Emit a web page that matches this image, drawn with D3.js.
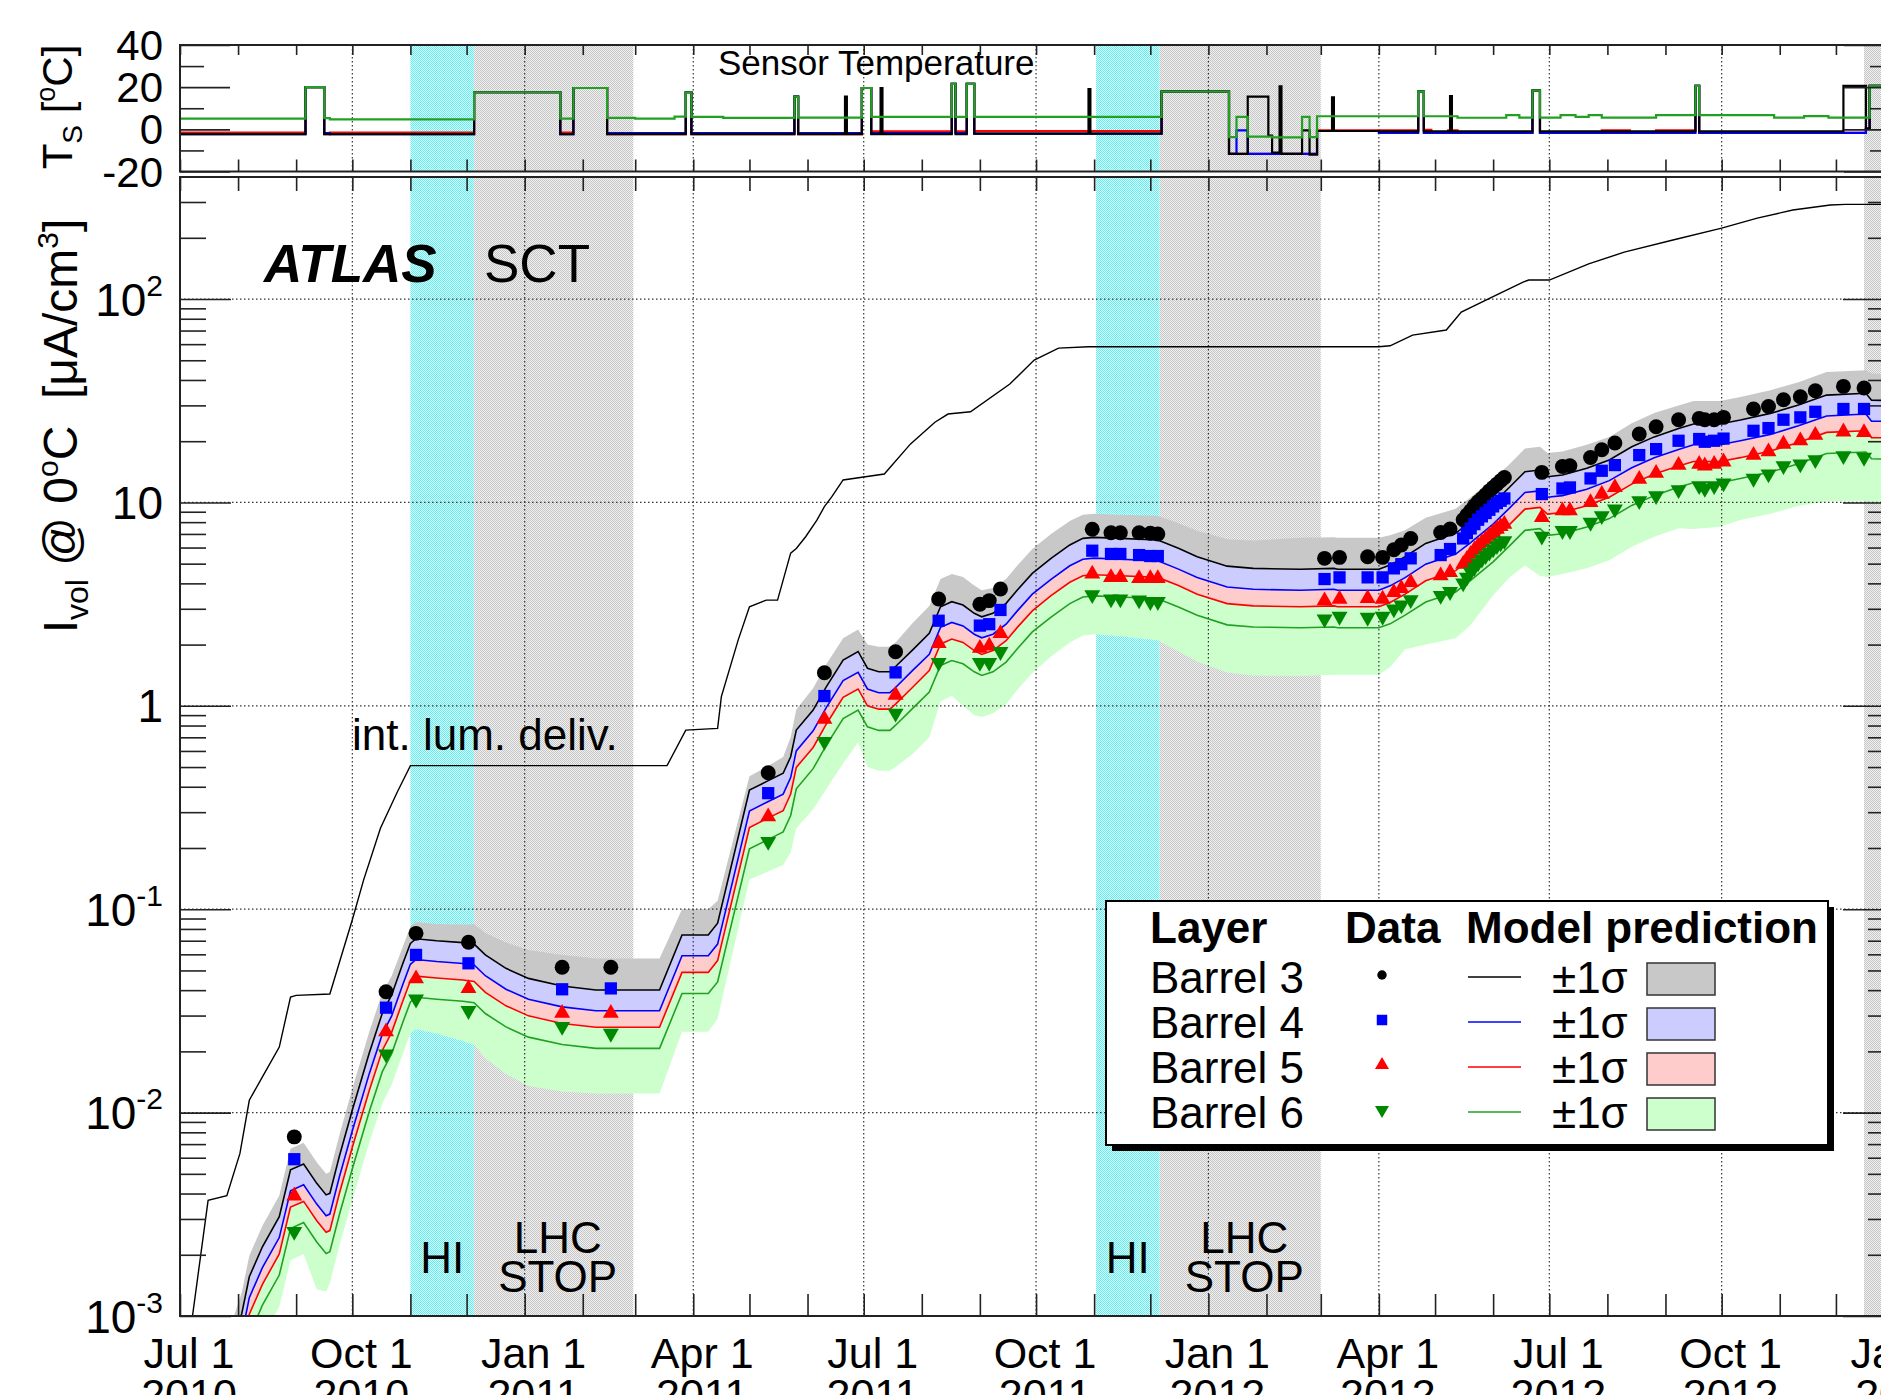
<!DOCTYPE html>
<html>
<head>
<meta charset="utf-8">
<script src="https://cdn.jsdelivr.net/npm/d3@7"></script>
<style>
  html, body { margin: 0; padding: 0; background: #fff; overflow: hidden; }
  svg { display: block; font-family: "Liberation Sans", Arial, Helvetica, sans-serif; }
  text { white-space: pre; }
</style>
</head>
<body>
<svg id="chart" width="1881" height="1395"></svg>
<script>
// ---------------- data ----------------
// shaded running periods (heavy-ion runs and LHC shutdowns)
const periodStart = ["2010-11-01", "2010-12-05", "2011-11-02", "2011-12-06", "2012-12-16"];
const periodEnd   = ["2010-12-05", "2011-02-28", "2011-12-06", "2012-03-01", "2013-01-01"];
const periodKind  = ["HI", "STOP", "HI", "STOP", "STOP"];

// x-axis labels
const labelDates = ["2010-07-01","2010-10-01","2011-01-01","2011-04-01","2011-07-01","2011-10-01",
                    "2012-01-01","2012-04-01","2012-07-01","2012-10-01","2013-01-01"];
const dateLabels = ["Jul 1","Oct 1","Jan 1","Apr 1","Jul 1","Oct 1","Jan 1","Apr 1","Jul 1","Oct 1","Jan 1"];
const yearLabels = ["2010","2010","2011","2011","2011","2011","2012","2012","2012","2012","2013"];

// y-axis labels (main panel, log scale)
const yTickVals = [1e-3, 1e-2, 1e-1, 1, 10, 100];
const yTickBase = ["10", "10", "10", "1", "10", "10"];
const yTickExp  = ["-3", "-2", "-1", "", "", "2"];

// y-axis labels (temperature panel)
const tTickVals = [40, 20, 0, -20];
const tTickText = ["40", "20", "0", "-20"];

// measured leakage current, uA/cm3 at 0 C
const dataDates = [
  "2010-08-31","2010-10-19","2010-11-04","2010-12-02","2011-01-21","2011-02-16",
  "2011-05-11","2011-06-10","2011-07-18","2011-08-10","2011-09-01","2011-09-06","2011-09-12",
  "2011-10-31","2011-11-10","2011-11-15","2011-11-25","2011-12-01","2011-12-05",
  "2012-03-03","2012-03-11","2012-03-26","2012-04-03","2012-04-09","2012-04-13","2012-04-18",
  "2012-05-04","2012-05-09","2012-05-16","2012-05-18","2012-05-20","2012-05-22","2012-05-24",
  "2012-05-26","2012-05-28","2012-05-30","2012-06-01","2012-06-03","2012-06-05","2012-06-07",
  "2012-06-27","2012-07-08","2012-07-12","2012-07-23","2012-07-29","2012-08-05","2012-08-18",
  "2012-08-27","2012-09-08","2012-09-19","2012-09-22","2012-09-27","2012-10-02","2012-10-18",
  "2012-10-26","2012-11-03","2012-11-12","2012-11-20","2012-12-05","2012-12-16"];
const b3Data = [0.0076, 0.0393, 0.0761, 0.0688, 0.0518, 0.0518,
  0.469, 1.455, 1.845, 3.35, 3.16, 3.29, 3.75, 7.38, 7.10, 7.10, 7.10, 7.05, 7.0,
  5.31, 5.37, 5.41, 5.37, 5.85, 6.17, 6.65, 7.12, 7.40,
  8.22, 8.66, 9.10, 9.63, 10.08, 10.46, 10.9, 11.4, 11.85, 12.3, 12.78, 13.27,
  14.05, 15.03, 15.14, 16.64, 18.15, 19.58, 21.7, 23.55,
  25.5, 25.9, 25.5, 25.5, 26.2, 28.8, 29.6, 32.0, 33.1, 35.4, 37.2, 36.5];
const b4Data = [0.0059, 0.0328, 0.0596, 0.0542, 0.0404, 0.0408,
  0.372, 1.117, 1.46, 2.62, 2.48, 2.52, 2.96, 5.79, 5.58, 5.58, 5.51, 5.45, 5.45,
  4.20, 4.28, 4.28, 4.28, 4.74, 4.97, 5.31, 5.51, 5.90,
  6.65, 7.07, 7.45, 7.82, 8.22, 8.54, 8.87, 9.20, 9.56, 9.92, 10.19, 10.46,
  10.99, 11.71, 11.85, 13.12, 14.31, 15.26, 17.09, 18.29,
  20.1, 20.5, 19.87, 20.1, 20.6, 22.5, 23.2, 25.5, 26.2, 27.9, 28.8, 28.8];
const b5Data = [0.0039, 0.025, 0.0455, 0.0408, 0.0308, 0.0308,
  0.285, 0.859, 1.13, 2.03, 1.92, 1.97, 2.27, 4.45, 4.28, 4.28, 4.23, 4.23, 4.23,
  3.29, 3.35, 3.37, 3.35, 3.61, 3.78, 4.04, 4.36, 4.53,
  4.97, 5.26, 5.57, 5.85, 6.12, 6.36, 6.60, 6.86, 7.12, 7.40, 7.62, 7.82,
  8.44, 9.10, 9.10, 10.0, 10.99, 11.85, 13.02, 13.94,
  15.26, 15.43, 15.14, 15.43, 15.84, 17.09, 17.75, 19.36, 20.1, 21.43, 22.25, 22.08];
const b6Data = [0.0026, 0.0194, 0.0361, 0.0317, 0.0265, 0.0245,
  0.215, 0.667, 0.918, 1.63, 1.63, 1.63, 1.845, 3.51, 3.35, 3.35, 3.31, 3.25, 3.25,
  2.67, 2.75, 2.72, 2.75, 2.99, 3.13, 3.32, 3.48, 3.64,
  4.01, 4.28, 4.56, 4.79, 5.03, 5.26, 5.47, 5.68, 5.90, 6.12, 6.31, 6.48,
  6.81, 7.26, 7.26, 7.97, 8.60, 9.27, 10.19, 10.78,
  11.54, 12.07, 11.71, 12.07, 12.45, 13.12, 13.78, 15.14, 15.43, 16.21, 16.96, 16.64];

// model prediction per barrel, with the outer edges of the uncertainty bands
const modelDates = [
  "2010-07-28","2010-08-03","2010-08-07","2010-08-14","2010-08-23","2010-08-29","2010-09-05","2010-09-12","2010-09-17","2010-09-19",
  "2010-09-24","2010-10-01","2010-10-10","2010-10-17","2010-10-22","2010-10-28","2010-11-01","2010-11-04","2010-11-15","2010-11-29",
  "2010-12-05","2010-12-11","2010-12-22","2011-01-03","2011-01-21","2011-02-08","2011-03-14","2011-03-26","2011-04-09","2011-04-14",
  "2011-05-01","2011-05-10","2011-05-19","2011-05-23","2011-05-26","2011-06-04","2011-06-11","2011-06-20","2011-06-28","2011-07-03",
  "2011-07-09","2011-07-15","2011-07-18","2011-07-27","2011-08-05","2011-08-11","2011-08-17","2011-08-23","2011-08-29","2011-09-02",
  "2011-09-08","2011-09-15","2011-09-21","2011-09-29","2011-10-09","2011-10-19","2011-10-26","2011-11-01","2011-11-15","2011-12-05",
  "2011-12-16","2011-12-26","2012-01-11","2012-01-25","2012-02-19","2012-03-08","2012-03-10","2012-04-01","2012-04-07","2012-04-15",
  "2012-04-26","2012-05-12","2012-05-20","2012-06-01","2012-06-10","2012-06-18","2012-06-26","2012-06-30","2012-07-08","2012-07-21",
  "2012-08-02","2012-08-14","2012-08-26","2012-09-08","2012-09-16","2012-09-30","2012-10-11","2012-10-27","2012-11-11","2012-11-26",
  "2012-12-17","2012-12-20","2013-01-01"];
const m3 = [
  0.0007, 0.00103, 0.00156, 0.00219, 0.00308, 0.00523, 0.00559, 0.00449, 0.00394, 0.00401,
  0.00607, 0.0103, 0.0196, 0.0308, 0.0379, 0.0542, 0.0679, 0.0716, 0.0700, 0.0685,
  0.0674, 0.0596, 0.0512, 0.0457, 0.0419, 0.0401, 0.0401, 0.0747, 0.0747, 0.0853,
  0.385, 0.424, 0.466, 0.562, 0.760, 0.953, 1.24, 1.68, 1.85, 1.53,
  1.47, 1.47, 1.56, 1.88, 2.27, 3.07, 3.25, 3.13, 2.85, 2.74,
  2.85, 3.19, 3.71, 4.48, 5.31, 6.18, 6.66, 6.73, 6.66, 6.53,
  5.95, 5.41, 4.86, 4.74, 4.69, 4.74, 4.69, 4.69, 4.92, 5.41,
  6.29, 7.05, 8.04, 9.90, 11.94, 14.16, 14.43, 13.37, 13.64, 14.72,
  16.17, 18.78, 21.0, 23.1, 24.3, 24.3, 25.4, 27.4, 30.1, 33.7,
  34.4, 31.8, 31.7];
const m4 = [
  0.00055, 0.00081, 0.00123, 0.00173, 0.00243, 0.00413, 0.00442, 0.00355, 0.00311, 0.00317,
  0.0048, 0.00814, 0.0155, 0.0243, 0.0299, 0.0428, 0.0536, 0.0566, 0.0553, 0.0541,
  0.0532, 0.0471, 0.0404, 0.0361, 0.0331, 0.0317, 0.0317, 0.059, 0.059, 0.0674,
  0.304, 0.335, 0.368, 0.444, 0.60, 0.753, 0.98, 1.33, 1.46, 1.21,
  1.16, 1.16, 1.23, 1.49, 1.79, 2.43, 2.57, 2.47, 2.25, 2.16,
  2.25, 2.52, 2.93, 3.54, 4.19, 4.88, 5.26, 5.32, 5.26, 5.16,
  4.70, 4.27, 3.84, 3.74, 3.70, 3.74, 3.70, 3.70, 3.89, 4.27,
  4.97, 5.57, 6.35, 7.82, 9.43, 11.2, 11.4, 10.6, 10.8, 11.6,
  12.8, 14.8, 16.6, 18.2, 19.2, 19.2, 20.1, 21.6, 23.8, 26.6,
  27.2, 25.1, 25.0];
const m5 = [
  0.00046, 0.00067, 0.00102, 0.00143, 0.00202, 0.00343, 0.00366, 0.00294, 0.00258, 0.00263,
  0.00398, 0.00675, 0.0128, 0.0202, 0.0248, 0.0355, 0.0445, 0.0469, 0.0459, 0.0449,
  0.0441, 0.039, 0.0335, 0.0299, 0.0274, 0.0263, 0.0263, 0.0489, 0.0489, 0.0559,
  0.252, 0.278, 0.305, 0.368, 0.498, 0.624, 0.812, 1.10, 1.21, 1.0,
  0.963, 0.963, 1.02, 1.23, 1.49, 2.01, 2.13, 2.05, 1.87, 1.79,
  1.87, 2.09, 2.43, 2.93, 3.48, 4.05, 4.36, 4.41, 4.36, 4.28,
  3.90, 3.54, 3.18, 3.10, 3.07, 3.10, 3.07, 3.07, 3.22, 3.54,
  4.12, 4.62, 5.27, 6.48, 7.82, 9.27, 9.45, 8.76, 8.93, 9.64,
  10.6, 12.3, 13.8, 15.1, 15.9, 15.9, 16.6, 17.9, 19.7, 22.1,
  22.5, 20.8, 20.8];
const m6 = [
  0.00036, 0.00053, 0.0008, 0.00113, 0.00159, 0.00269, 0.00288, 0.00231, 0.00203, 0.00207,
  0.00313, 0.0053, 0.0101, 0.0159, 0.0195, 0.0279, 0.035, 0.0369, 0.0361, 0.0353,
  0.0347, 0.0307, 0.0264, 0.0235, 0.0216, 0.0207, 0.0207, 0.0385, 0.0385, 0.0439,
  0.198, 0.218, 0.24, 0.289, 0.391, 0.491, 0.639, 0.865, 0.953, 0.788,
  0.757, 0.757, 0.803, 0.968, 1.17, 1.58, 1.67, 1.61, 1.47, 1.41,
  1.47, 1.64, 1.91, 2.31, 2.73, 3.18, 3.43, 3.47, 3.43, 3.36,
  3.06, 2.79, 2.50, 2.44, 2.42, 2.44, 2.42, 2.42, 2.53, 2.79,
  3.24, 3.63, 4.14, 5.10, 6.15, 7.29, 7.43, 6.89, 7.02, 7.58,
  8.33, 9.67, 10.8, 11.9, 12.5, 12.5, 13.1, 14.1, 15.5, 17.4,
  17.7, 16.4, 16.3];
const hi3 = [
  0.00089, 0.00131, 0.00198, 0.00278, 0.00391, 0.00664, 0.0071, 0.0057, 0.005, 0.0051,
  0.0077, 0.0131, 0.0249, 0.0388, 0.047, 0.0656, 0.0822, 0.0866, 0.0847, 0.0842,
  0.0843, 0.0763, 0.0686, 0.0631, 0.0595, 0.0573, 0.0573, 0.1, 0.1, 0.11,
  0.45, 0.50, 0.56, 0.70, 0.96, 1.22, 1.6, 2.15, 2.37, 2.0,
  1.95, 1.95, 2.05, 2.55, 3.1, 4.2, 4.45, 4.3, 3.9, 3.7,
  3.8, 4.2, 4.9, 5.9, 7.0, 8.1, 8.7, 8.8, 8.7, 8.6,
  7.9, 7.25, 6.6, 6.5, 6.7, 6.75, 6.7, 6.7, 6.9, 7.3,
  8.4, 9.3, 10.6, 13, 15.5, 18.4, 18.8, 17.5, 17.8, 19.2,
  21, 24.5, 27.5, 30, 31.5, 31.5, 33, 35.6, 39, 43.8,
  44.7, 43, 42.5];
const lo6 = [
  0.00025, 0.00037, 0.00056, 0.00079, 0.00111, 0.00188, 0.00202, 0.00135, 0.00132, 0.00145,
  0.0022, 0.0037, 0.0071, 0.0111, 0.0137, 0.0195, 0.0245, 0.0258, 0.0245, 0.0225,
  0.0215, 0.0185, 0.0155, 0.0135, 0.0127, 0.0124, 0.0124, 0.025, 0.025, 0.029,
  0.14, 0.152, 0.165, 0.19, 0.25, 0.31, 0.39, 0.52, 0.66, 0.50,
  0.48, 0.48, 0.50, 0.58, 0.70, 1.05, 1.12, 1.0, 0.90, 0.88,
  0.92, 1.02, 1.2, 1.45, 1.75, 2.05, 2.22, 2.25, 2.2, 2.1,
  1.85, 1.65, 1.46, 1.41, 1.40, 1.42, 1.42, 1.42, 1.55, 1.9,
  2.0, 2.15, 2.5, 3.5, 4.3, 4.9, 4.35, 4.3, 4.45, 4.75,
  5.2, 6.05, 6.78, 7.46, 7.4, 7.6, 8.19, 8.8, 9.6, 10.1,
  10.2, 10.0, 10.0];

// delivered integrated luminosity (same log axis)
const lumiDates = [
  "2010-07-07","2010-07-16","2010-07-26","2010-08-02","2010-08-07","2010-08-14","2010-08-23","2010-08-29",
  "2010-09-01","2010-09-19","2010-09-24","2010-10-01","2010-10-07","2010-10-16","2010-10-25","2010-11-01",
  "2011-03-18","2011-03-28","2011-04-14","2011-04-16","2011-04-25","2011-05-01","2011-05-10","2011-05-16",
  "2011-05-23","2011-05-26","2011-05-31","2011-06-06","2011-06-10","2011-06-14","2011-06-20","2011-07-12",
  "2011-07-26","2011-08-08","2011-08-15","2011-08-27","2011-09-17","2011-09-30","2011-10-13","2011-10-29",
  "2012-04-01","2012-04-07","2012-04-19","2012-05-07","2012-05-15","2012-06-04","2012-06-17","2012-06-20",
  "2012-07-01","2012-07-22","2012-08-10","2012-09-05","2012-10-01","2012-10-20","2012-11-08","2012-11-28",
  "2012-12-06","2013-01-01"];
const lumiVals = [
  0.0009, 0.0037, 0.0039, 0.0063, 0.0115, 0.015, 0.021, 0.037,
  0.0377, 0.0383, 0.0544, 0.0887, 0.139, 0.25, 0.377, 0.508,
  0.508, 0.76, 0.775, 1.11, 2.11, 3.07, 3.31, 3.31,
  5.63, 5.94, 6.78, 8.18, 9.53, 10.67, 12.9, 13.8,
  19.4, 24.8, 27.2, 27.9, 38.2, 50.1, 57.4, 58.3,
  58.3, 58.9, 66.5, 70.4, 86.3, 106, 121, 124,
  124, 149, 170, 195, 223, 250, 274, 290,
  292, 292];

// sensor temperature per barrel, C (held until the next date)
const tempDates = [
  "2010-07-01","2010-09-06","2010-09-16","2010-09-19","2010-12-05","2011-01-20","2011-01-27","2011-02-14",
  "2011-03-01","2011-03-22","2011-03-28","2011-03-31","2011-04-17","2011-05-25","2011-05-27","2011-06-21",
  "2011-06-22","2011-06-30","2011-07-05","2011-07-10","2011-07-11","2011-08-17","2011-08-19","2011-08-25",
  "2011-08-29","2011-10-29","2011-10-30","2011-12-07","2012-01-12","2012-01-16","2012-01-22","2012-02-02",
  "2012-02-04","2012-02-08","2012-02-09","2012-02-20","2012-02-24","2012-02-28","2012-03-07","2012-03-08",
  "2012-04-01","2012-04-22","2012-04-25","2012-04-29","2012-05-08","2012-05-09","2012-05-10","2012-05-13",
  "2012-06-08","2012-06-15","2012-06-22","2012-06-26","2012-07-07","2012-07-15","2012-07-22","2012-07-29",
  "2012-08-13","2012-08-27","2012-09-17","2012-09-19","2012-10-29","2012-11-14","2012-11-27","2012-12-05",
  "2012-12-17","2012-12-19","2013-01-01"];
const t3 = [
  -2.3, 20, -2.3, -2.3, 17.6, -2.3, 19.6, -2.3,
  -2.3, -2.3, 17.6, -2.3, -2.3, 15.5, -2.3, 15.5,
  -2.3, 19.6, -2.3, 19.6, -2.3, 21.6, -2.3, 21.6,
  -2.0, 19.1, -2.0, 17.9, -11.6, -11.6, 15.5, -3.0,
  -11.0, 20.4, -11.6, -0.5, -12.0, -0.8, 15.2, -0.8,
  -1.0, 17.9, -1.0, -1.0, -1.0, 15.8, -1.0, -1.0,
  -1.0, -1.0, 18.4, -1.0, -1.0, -1.0, -1.0, -1.0,
  -1.0, -1.0, 20.6, -1.0, -1.0, -1.0, -1.0, 20.6,
  0.3, 20.6, 20.6];
const t4 = [
  -2.3, 20, -1.8, -2.3, 17.6, -2.3, 19.6, -1.8,
  -1.8, -1.8, 17.6, -1.8, -1.8, 15.5, -1.8, -1.8,
  -1.8, 19.6, -1.8, -1.8, -1.8, 21.6, -1.8, 21.6,
  -2.0, -2.0, -2.0, 17.9, -11.6, -0.5, -11.6, -11.6,
  -11.6, -11.6, -11.6, -11.6, -11.6, -0.8, -0.8, -0.8,
  -1.7, 17.9, -1.7, -1.7, -1.7, -1.7, -1.7, -1.7,
  -1.7, -1.7, 18.4, -1.7, -1.7, -1.7, -1.7, -1.7,
  -1.7, -1.7, 20.6, -1.7, -1.7, -1.7, -1.7, -1.7,
  0.3, 20.6, 20.6];
const t5 = [
  -1.6, 20, -2.3, -1.6, 17.6, -1.6, 19.6, -2.3,
  -2.3, -2.3, 17.6, -2.3, -2.3, 15.5, -2.3, -2.3,
  -2.3, 19.6, -0.9, -0.9, -0.9, 21.6, -0.9, 21.6,
  -0.8, -0.8, -0.8, 17.9, -11.6, -11.6, -11.6, -11.6,
  -11.6, -11.6, -11.6, -11.6, -11.6, -0.5, -0.5, -0.5,
  -0.5, 17.9, -0.3, -1.7, -0.5, -0.5, -0.5, -1.7,
  -1.7, -1.7, 18.4, -1.7, -1.7, -1.7, -1.7, -0.5,
  -1.7, -0.5, 20.6, -1.7, -1.7, -1.7, -1.7, -1.7,
  0.3, 20.6, 20.6];
const t6 = [
  5.1, 20, 5.3, 4.7, 17.6, 5.1, 19.6, 5.4,
  5.1, 6.0, 17.6, 5.9, 5.4, 15.5, 5.6, 5.6,
  5.6, 19.6, 5.9, 5.9, 5.9, 21.6, 5.9, 21.6,
  5.9, 5.9, 5.9, 17.9, -3.7, 5.9, -3.5, -3.5,
  -3.8, -3.8, -3.8, 5.9, -3.7, 6.2, 6.2, 6.2,
  6.2, 17.9, 6.2, 6.2, 6.2, 6.2, 6.2, 5.5,
  6.7, 5.6, 18.4, 5.6, 6.7, 5.9, 6.7, 5.6,
  5.6, 6.7, 20.6, 6.7, 5.6, 6.25, 5.6, 5.6,
  5.6, 20.6, 20.6];

// legend rows
const layerNames = ["Barrel 3", "Barrel 4", "Barrel 5", "Barrel 6"];

// ---------------- layout ----------------
const frameL = 180, frameR = 1894;
const topY0 = 45, topY1 = 171.5;
const mainY0 = 177, mainY1 = 1316;

const parse = d3.utcParse("%Y-%m-%d");
const x = d3.scaleUtc().domain([parse("2010-07-01"), parse("2013-01-01")]).range([frameL, frameR]);
const y = d3.scaleLog().domain([1e-3, Math.pow(10, 2.6)]).range([mainY1, mainY0]);
const yT = d3.scaleLinear().domain([-20, 40]).range([topY1, topY0]);

const colLine = ["#000000", "#0000ff", "#ff0000", "#22a022"];
const colMark = ["#000000", "#0000ff", "#ff0000", "#008800"];
const colBand = ["#c8c8c8", "#ccccff", "#ffcccc", "#ccffcc"];

const svg = d3.select("#chart");
const defs = svg.append("defs");

// fine dotted fill used for the shaded periods
function checker(id, c1, c2) {
  const p = defs.append("pattern").attr("id", id)
    .attr("width", 2).attr("height", 2).attr("patternUnits", "userSpaceOnUse");
  p.append("rect").attr("width", 2).attr("height", 2).attr("fill", c2);
  p.append("rect").attr("width", 1).attr("height", 1).attr("fill", c1);
  p.append("rect").attr("x", 1).attr("y", 1).attr("width", 1).attr("height", 1).attr("fill", c1);
}
checker("fillHI", "#62eeee", "#dcfefe");
checker("fillStop", "#c6c6c6", "#f0f0f0");

defs.append("clipPath").attr("id", "clipMain").append("rect")
  .attr("x", frameL).attr("y", mainY0).attr("width", frameR - frameL).attr("height", mainY1 - mainY0);
defs.append("clipPath").attr("id", "clipTop").append("rect")
  .attr("x", frameL).attr("y", topY0).attr("width", frameR - frameL).attr("height", topY1 - topY0);

const gTop = svg.append("g").attr("clip-path", "url(#clipTop)");
const gMain = svg.append("g").attr("clip-path", "url(#clipMain)");

// ---- shaded periods ----
const periods = periodStart.map((s, i) => ({ s: parse(s), e: parse(periodEnd[i]), k: periodKind[i] }));
[[gTop, topY0, topY1], [gMain, mainY0, mainY1]].forEach(([g, y0, y1]) => {
  g.selectAll("rect.period").data(periods).join("rect").attr("class", "period")
    .attr("x", d => x(d.s)).attr("width", d => x(d.e) - x(d.s))
    .attr("y", y0).attr("height", y1 - y0)
    .attr("fill", d => d.k === "HI" ? "url(#fillHI)" : "url(#fillStop)");
});

// ---- model uncertainty bands ----
const model = modelDates.map((d, i) => ({
  date: parse(d), m3: m3[i], m4: m4[i], m5: m5[i], m6: m6[i], hi3: hi3[i], lo6: lo6[i]
}));
const bandSpec = [["m3", "hi3"], ["m4", "m3"], ["m5", "m4"], ["lo6", "m5"]];
bandSpec.forEach(([lo, hi], i) => {
  gMain.append("path").datum(model)
    .attr("d", d3.area().x(d => x(d.date)).y0(d => y(d[lo])).y1(d => y(d[hi])))
    .attr("fill", colBand[i]).attr("stroke", "none");
});

// ---- grid ----
const quarterDates = d3.utcMonth.every(3).range(parse("2010-07-02"), parse("2013-01-01"));
const dotted = "1.5,2.5";
[[gTop, topY0, topY1], [gMain, mainY0, mainY1]].forEach(([g, y0, y1]) => {
  g.selectAll("line.vgrid").data(quarterDates).join("line").attr("class", "vgrid")
    .attr("x1", d => x(d)).attr("x2", d => x(d)).attr("y1", y0).attr("y2", y1)
    .attr("stroke", "#333").attr("stroke-width", 1.2).attr("stroke-dasharray", dotted);
});
gMain.selectAll("line.hgrid").data([1e-2, 1e-1, 1, 10, 100]).join("line").attr("class", "hgrid")
  .attr("x1", frameL).attr("x2", frameR).attr("y1", d => y(d)).attr("y2", d => y(d))
  .attr("stroke", "#333").attr("stroke-width", 1.2).attr("stroke-dasharray", dotted);

// ---- luminosity ----
const lumi = lumiDates.map((d, i) => ({ date: parse(d), v: lumiVals[i] }));
gMain.append("path").datum(lumi)
  .attr("d", d3.line().x(d => x(d.date)).y(d => y(d.v)))
  .attr("fill", "none").attr("stroke", "#000").attr("stroke-width", 1.4);

// ---- model lines ----
["m3", "m4", "m5", "m6"].forEach((k, i) => {
  gMain.append("path").datum(model)
    .attr("d", d3.line().x(d => x(d.date)).y(d => y(d[k])))
    .attr("fill", "none").attr("stroke", colLine[i]).attr("stroke-width", 1.6);
});

// ---- data markers ----
const symCircle = d3.symbol().type(d3.symbolCircle).size(175)();
const symSquare = d3.symbol().type(d3.symbolSquare).size(150)();
const symTri = d3.symbol().type(d3.symbolTriangle).size(110)();
const markerPaths = [symCircle, symSquare, symTri, symTri];
const markerRot = [0, 0, 0, 180];
[b3Data, b4Data, b5Data, b6Data].forEach((vals, i) => {
  const pts = dataDates.map((d, j) => ({ date: parse(d), v: vals[j] }));
  gMain.selectAll("path.mk" + i).data(pts).join("path").attr("class", "mk" + i)
    .attr("d", markerPaths[i])
    .attr("transform", d => `translate(${x(d.date)},${y(d.v)}) rotate(${markerRot[i]})`)
    .attr("fill", colMark[i]);
});

// ---- temperature lines ----
const temps = tempDates.map((d, i) => ({ date: parse(d), t3: t3[i], t4: t4[i], t5: t5[i], t6: t6[i] }));
[["t5", 2], ["t4", 1], ["t3", 0], ["t6", 3]].forEach(([k, ci]) => {
  gTop.append("path").datum(temps)
    .attr("d", d3.line().curve(d3.curveStepAfter).x(d => x(d.date)).y(d => yT(d[k])))
    .attr("fill", "none").attr("stroke", colLine[ci]).attr("stroke-width", 2.2);
});

// ---- axes (ticks only) ----
function tickAxis(g, axis) {
  g.call(axis);
  g.select(".domain").remove();
  g.selectAll(".tick text").remove();
  g.selectAll(".tick line").attr("stroke", "#222").attr("stroke-width", 1.6);
}
const months = d3.utcMonth.range(parse("2010-07-01"), parse("2013-01-02"));
tickAxis(svg.append("g").attr("transform", `translate(0,${mainY1})`),
  d3.axisTop(x).tickValues(months).tickSize(22).tickFormat(""));
tickAxis(svg.append("g").attr("transform", `translate(0,${mainY0})`),
  d3.axisBottom(x).tickValues(months).tickSize(14).tickFormat(""));
tickAxis(svg.append("g").attr("transform", `translate(0,${topY1})`),
  d3.axisTop(x).tickValues(months).tickSize(12).tickFormat(""));
tickAxis(svg.append("g").attr("transform", `translate(0,${topY0})`),
  d3.axisBottom(x).tickValues(months).tickSize(10).tickFormat(""));

const minorLog = [];
for (let e = -3; e <= 2; e++) for (let m = 2; m <= 9; m++) {
  const v = m * Math.pow(10, e);
  if (v < Math.pow(10, 2.6)) minorLog.push(v);
}
tickAxis(svg.append("g").attr("transform", `translate(${frameL},0)`),
  d3.axisRight(y).tickValues(yTickVals).tickSize(51).tickFormat(""));
tickAxis(svg.append("g").attr("transform", `translate(${frameL},0)`),
  d3.axisRight(y).tickValues(minorLog).tickSize(26).tickFormat(""));
tickAxis(svg.append("g").attr("transform", `translate(${frameR},0)`),
  d3.axisLeft(y).tickValues(yTickVals).tickSize(51).tickFormat(""));
tickAxis(svg.append("g").attr("transform", `translate(${frameR},0)`),
  d3.axisLeft(y).tickValues(minorLog).tickSize(26).tickFormat(""));

tickAxis(svg.append("g").attr("transform", `translate(${frameL},0)`),
  d3.axisRight(yT).tickValues(tTickVals).tickSize(50).tickFormat(""));
tickAxis(svg.append("g").attr("transform", `translate(${frameL},0)`),
  d3.axisRight(yT).tickValues([-10, 10, 30]).tickSize(24).tickFormat(""));
tickAxis(svg.append("g").attr("transform", `translate(${frameR},0)`),
  d3.axisLeft(yT).tickValues(tTickVals).tickSize(50).tickFormat(""));
tickAxis(svg.append("g").attr("transform", `translate(${frameR},0)`),
  d3.axisLeft(yT).tickValues([-10, 10, 30]).tickSize(24).tickFormat(""));

// ---- frames ----
svg.append("rect").attr("x", frameL).attr("y", topY0).attr("width", frameR - frameL).attr("height", topY1 - topY0)
  .attr("fill", "none").attr("stroke", "#222").attr("stroke-width", 2);
svg.append("rect").attr("x", frameL).attr("y", mainY0).attr("width", frameR - frameL).attr("height", mainY1 - mainY0)
  .attr("fill", "none").attr("stroke", "#222").attr("stroke-width", 2);

// ---- tick labels ----
const yLab = svg.append("g").attr("font-size", 46).attr("text-anchor", "end").attr("fill", "#000");
yTickVals.forEach((v, i) => {
  const t = yLab.append("text").attr("x", 163).attr("y", y(v) + 16.5);
  t.append("tspan").text(yTickBase[i]);
  if (yTickExp[i]) t.append("tspan").attr("dy", -20).attr("font-size", 30).text(yTickExp[i]);
});
const tLab = svg.append("g").attr("font-size", 42).attr("text-anchor", "end");
tTickVals.forEach((v, i) => {
  tLab.append("text").attr("x", 163).attr("y", yT(v) + 15).text(tTickText[i]);
});
const xLab = svg.append("g").attr("font-size", 43).attr("text-anchor", "middle");
labelDates.forEach((d, i) => {
  const cx = x(parse(d)) + 9;
  xLab.append("text").attr("x", cx).attr("y", 1368).text(dateLabels[i]);
  xLab.append("text").attr("x", cx).attr("y", 1409).text(yearLabels[i]);
});

// ---- axis titles ----
const yTitle = svg.append("text").attr("transform", "translate(77,426) rotate(-90)")
  .attr("text-anchor", "middle").attr("font-size", 48);
yTitle.append("tspan").text("I");
yTitle.append("tspan").attr("font-size", 32).attr("dy", 11).text("vol");
yTitle.append("tspan").attr("dy", -11).text(" @ 0");
yTitle.append("tspan").attr("font-size", 30).attr("dy", -19).text("o");
yTitle.append("tspan").attr("dy", 19).text("C  [\u03bcA/cm");
yTitle.append("tspan").attr("font-size", 30).attr("dy", -19).text("3");
yTitle.append("tspan").attr("dy", 19).text("]");

const tTitle = svg.append("text").attr("transform", "translate(72,107) rotate(-90)")
  .attr("text-anchor", "middle").attr("font-size", 42);
tTitle.append("tspan").text("T");
tTitle.append("tspan").attr("font-size", 28).attr("dy", 10).text("S");
tTitle.append("tspan").attr("dy", -10).text(" [");
tTitle.append("tspan").attr("font-size", 27).attr("dy", -17).text("o");
tTitle.append("tspan").attr("dy", 17).text("C]");

// ---- annotations ----
svg.append("text").attr("x", 718).attr("y", 75).attr("font-size", 35).text("Sensor Temperature");
svg.append("text").attr("x", 264).attr("y", 282).attr("font-size", 53)
  .attr("font-weight", "bold").attr("font-style", "italic").text("ATLAS");
svg.append("text").attr("x", 484).attr("y", 282).attr("font-size", 53).text("SCT");
svg.append("text").attr("x", 352).attr("y", 750).attr("font-size", 44).text("int. lum. deliv.");

const perLab = svg.append("g").attr("font-size", 44).attr("text-anchor", "middle");
periods.slice(0, 4).forEach(p => {
  const cx = (x(p.s) + x(p.e)) / 2;
  if (p.k === "HI") {
    perLab.append("text").attr("x", cx).attr("y", 1273).text("HI");
  } else {
    perLab.append("text").attr("x", cx + 4).attr("y", 1253).text("LHC");
    perLab.append("text").attr("x", cx + 4).attr("y", 1292).text("STOP");
  }
});

// ---- legend ----
const lg = svg.append("g");
const lgX = 1106, lgY = 901, lgW = 722, lgH = 244;
lg.append("rect").attr("x", lgX + 6).attr("y", lgY + 6).attr("width", lgW).attr("height", lgH).attr("fill", "#000");
lg.append("rect").attr("x", lgX).attr("y", lgY).attr("width", lgW).attr("height", lgH)
  .attr("fill", "#fff").attr("stroke", "#000").attr("stroke-width", 2);
const lgHead = lg.append("g").attr("font-size", 44).attr("font-weight", "bold");
lgHead.append("text").attr("x", 1150).attr("y", 943).text("Layer");
lgHead.append("text").attr("x", 1345).attr("y", 943).text("Data");
lgHead.append("text").attr("x", 1466).attr("y", 943).text("Model prediction");
const legMarks = [
  d3.symbol().type(d3.symbolCircle).size(70)(),
  d3.symbol().type(d3.symbolSquare).size(110)(),
  d3.symbol().type(d3.symbolTriangle).size(85)(),
  d3.symbol().type(d3.symbolTriangle).size(85)()];
layerNames.forEach((name, i) => {
  const base = 993 + i * 45;
  lg.append("text").attr("x", 1150).attr("y", base).attr("font-size", 44).text(name);
  lg.append("path").attr("d", legMarks[i])
    .attr("transform", `translate(1382,${base - 18}) rotate(${markerRot[i]})`).attr("fill", colMark[i]);
  lg.append("line").attr("x1", 1468).attr("x2", 1521).attr("y1", base - 16).attr("y2", base - 16)
    .attr("stroke", colLine[i]).attr("stroke-width", 1.6);
  lg.append("text").attr("x", 1552).attr("y", base).attr("font-size", 44).text("\u00b11\u03c3");
  lg.append("rect").attr("x", 1647).attr("y", base - 30).attr("width", 68).attr("height", 32)
    .attr("fill", colBand[i]).attr("stroke", "#333").attr("stroke-width", 1.5);
});
</script>
</body>
</html>
